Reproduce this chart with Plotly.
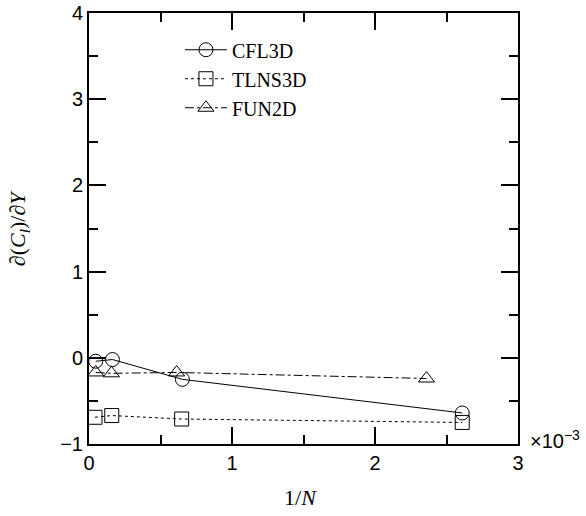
import plotly.graph_objects as go

# 1/N (x 1e-3) and d(Cl)/dY for each code
cfl3d_x = [0.047, 0.164, 0.653, 2.61]
cfl3d_y = [-0.04, -0.02, -0.25, -0.64]

tlns3d_x = [0.042, 0.159, 0.648, 2.61]
tlns3d_y = [-0.69, -0.67, -0.71, -0.75]

fun2d_x = [0.047, 0.157, 0.613, 2.36]
fun2d_y = [-0.17, -0.18, -0.17, -0.24]

SERIES = [
    ("CFL3D", cfl3d_x, cfl3d_y, "solid", "circle-open"),
    ("TLNS3D", tlns3d_x, tlns3d_y, "dot", "square-open"),
    ("FUN2D", fun2d_x, fun2d_y, "dashdot", "triangle-up-open"),
]

fig = go.Figure()
for name, xs, ys, dash, symbol in SERIES:
    fig.add_trace(go.Scatter(
        x=xs, y=ys, name=name, mode="lines+markers",
        line=dict(color="black", width=1, dash=dash),
        marker=dict(symbol=symbol, size=14, color="black", line=dict(width=1, color="black")),
    ))

axis_common = dict(
    showline=True, linecolor="black", linewidth=2, mirror="ticks",
    ticks="inside", ticklen=17, tickwidth=2, tickcolor="black",
    showgrid=False, zeroline=False, automargin=False,
    tickfont=dict(family="Liberation Sans", size=20, color="black"),
)

fig.update_xaxes(
    range=[0, 3], tickvals=[0, 1, 2, 3],
    minor=dict(tickvals=[0.5, 1.5, 2.5], ticks="inside", ticklen=9, tickwidth=2, tickcolor="black"),
    **axis_common,
)
fig.update_yaxes(
    range=[-1, 4], tickvals=[-1, 0, 1, 2, 3, 4], ticktext=["\u22121", "0", "1", "2", "3", "4"],
    minor=dict(tickvals=[-0.5, 0.5, 1.5, 2.5, 3.5], ticks="inside", ticklen=9, tickwidth=2, tickcolor="black"),
    **axis_common,
)

title_font = dict(family="Liberation Serif", size=22, color="black")
fig.add_annotation(
    text="1/<i>N</i>", xref="paper", yref="paper", x=0.494, y=-0.125,
    xanchor="center", yanchor="middle", showarrow=False, font=title_font,
)
fig.add_annotation(
    text="\u2202(<i>C<sub>l</sub></i>)/\u2202<i>Y</i>", xref="paper", yref="paper", x=-0.163, y=0.501,
    xanchor="center", yanchor="middle", textangle=-90, showarrow=False, font=title_font,
)
fig.add_annotation(
    text="\u00d710<sup>\u22123</sup>", xref="paper", yref="paper", x=1.0, y=0.0,
    xanchor="left", yanchor="bottom", xshift=10, yshift=-10, showarrow=False,
    font=dict(family="Liberation Sans", size=20, color="black"),
)

fig.update_layout(
    width=586, height=516,
    margin=dict(l=89, r=68, t=13, b=72),
    paper_bgcolor="white", plot_bgcolor="white",
    legend=dict(x=0.212, y=0.96, xanchor="left", yanchor="top",
                bgcolor="rgba(0,0,0,0)", font=dict(family="Liberation Serif", size=20, color="black"),
                itemwidth=42),
    showlegend=True,
)

fig.write_html("out.html", config={"displayModeBar": False},
               post_script="document.body.style.margin='0';")
